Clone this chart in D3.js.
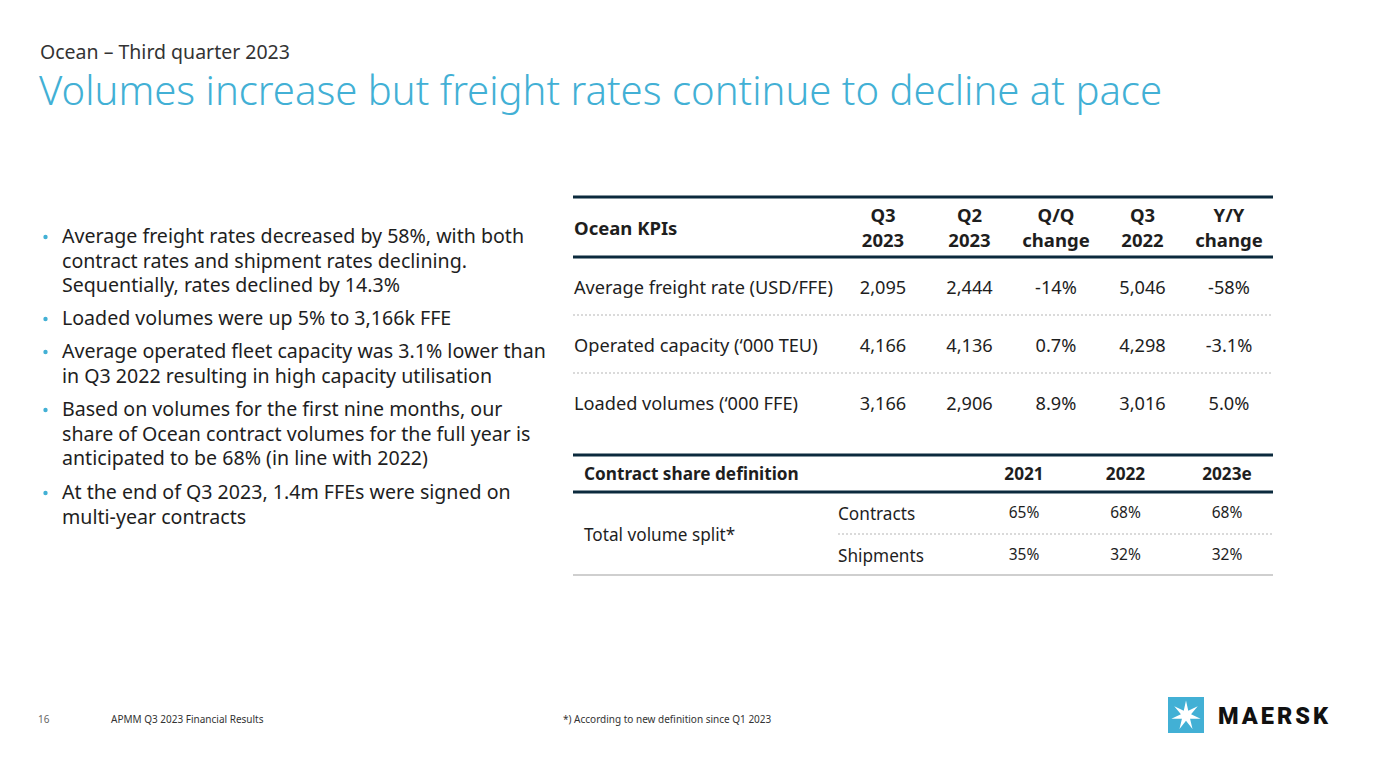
<!DOCTYPE html>
<html><head><meta charset="utf-8">
<script src="https://cdn.jsdelivr.net/npm/d3@7"></script>
<style>
body{margin:0;background:#fff;}
svg{display:block;font-family:"Noto Sans",sans-serif;}
</style></head>
<body>
<svg id="c" width="1381" height="764"></svg>
<script>
const supTitle = "Ocean – Third quarter 2023";
const title = "Volumes increase but freight rates continue to decline at pace";
const bullets = [
  ["Average freight rates decreased by 58%, with both","contract rates and shipment rates declining.","Sequentially, rates declined by 14.3%"],
  ["Loaded volumes were up 5% to 3,166k FFE"],
  ["Average operated fleet capacity was 3.1% lower than","in Q3 2022 resulting in high capacity utilisation"],
  ["Based on volumes for the first nine months, our","share of Ocean contract volumes for the full year is","anticipated to be 68% (in line with 2022)"],
  ["At the end of Q3 2023, 1.4m FFEs were signed on","multi-year contracts"]
];
const kpiColumns = [["Q3","2023"],["Q2","2023"],["Q/Q","change"],["Q3","2022"],["Y/Y","change"]];
const kpiRows = ["Average freight rate (USD/FFE)","Operated capacity (‘000 TEU)","Loaded volumes (‘000 FFE)"];
const kpiQ3_2023 = ["2,095","4,166","3,166"];
const kpiQ2_2023 = ["2,444","4,136","2,906"];
const kpiQoQ = ["-14%","0.7%","8.9%"];
const kpiQ3_2022 = ["5,046","4,298","3,016"];
const kpiYoY = ["-58%","-3.1%","5.0%"];
const shareYears = ["2021","2022","2023e"];
const shareRows = ["Contracts","Shipments"];
const contractsShare = ["65%","68%","68%"];
const shipmentsShare = ["35%","32%","32%"];
const footerPage = "16";
const footerLeft = "APMM Q3 2023 Financial Results";
const footerNote = "*) According to new definition since Q1 2023";

const svg = d3.select("#c");
const navy = "#0b2a3d", txt = "#1e1e1e", blue = "#42b0d5";

svg.append("text").attr("x",40).attr("y",59).attr("font-size",19.5).attr("fill","#333").text(supTitle);
svg.append("text").attr("x",39).attr("y",105).attr("font-size",40.1).attr("font-weight",300).attr("fill",blue).text(title);

// bullets
const bulletTops = [243,325,358,416,499];
const lineH = 24.5;
bullets.forEach((b,i)=>{
  svg.append("circle").attr("cx",45.5).attr("cy",bulletTops[i]-6).attr("r",2.2).attr("fill",blue);
  b.forEach((l,j)=>{
    svg.append("text").attr("x",62).attr("y",bulletTops[i]+j*lineH).attr("font-size",19.6).attr("fill",txt).text(l);
  });
});

// KPI table
const tx0=573, tx1=1273;
const colX = d3.scalePoint().domain(d3.range(kpiColumns.length)).range([883,1229]);
const rowY = d3.scalePoint().domain(d3.range(kpiRows.length)).range([294,410]);
const g1 = svg.append("g");
g1.append("line").attr("x1",tx0).attr("x2",tx1).attr("y1",197).attr("y2",197).attr("stroke",navy).attr("stroke-width",3);
g1.append("line").attr("x1",tx0).attr("x2",tx1).attr("y1",257).attr("y2",257).attr("stroke",navy).attr("stroke-width",3);
g1.append("text").attr("x",574).attr("y",235).attr("font-size",18.5).attr("font-weight",700).attr("fill",txt).text("Ocean KPIs");
kpiColumns.forEach((c,i)=>{
  c.forEach((l,j)=>g1.append("text").attr("x",colX(i)).attr("y",222+j*25).attr("text-anchor","middle").attr("font-size",18.5).attr("font-weight",700).attr("fill",txt).text(l));
});
const kpiVals=[kpiQ3_2023,kpiQ2_2023,kpiQoQ,kpiQ3_2022,kpiYoY];
kpiRows.forEach((r,i)=>{
  g1.append("text").attr("x",574).attr("y",rowY(i)).attr("font-size",18.2).attr("fill",txt).text(r);
  kpiVals.forEach((arr,k)=>g1.append("text").attr("x",colX(k)).attr("y",rowY(i)).attr("text-anchor","middle").attr("font-size",18.2).attr("fill",txt).text(arr[i]));
  if(i<kpiRows.length-1){
    const y=(rowY(i)+rowY(i+1))/2-8;
    g1.append("line").attr("x1",tx0).attr("x2",tx1).attr("y1",y).attr("y2",y).attr("stroke","#b5b5b5").attr("stroke-width",1).attr("stroke-dasharray","2,2");
  }
});

// Share table
const g2 = svg.append("g");
const sX = d3.scalePoint().domain(d3.range(shareYears.length)).range([1024,1227]);
const sY = d3.scalePoint().domain(d3.range(shareRows.length)).range([519,561]);
g2.append("line").attr("x1",tx0).attr("x2",tx1).attr("y1",455).attr("y2",455).attr("stroke",navy).attr("stroke-width",3);
g2.append("line").attr("x1",tx0).attr("x2",tx1).attr("y1",492).attr("y2",492).attr("stroke",navy).attr("stroke-width",3);
g2.append("line").attr("x1",tx0).attr("x2",tx1).attr("y1",575).attr("y2",575).attr("stroke","#cfcfcf").attr("stroke-width",2);
g2.append("text").attr("x",584).attr("y",480).attr("font-size",17.2).attr("font-weight",700).attr("fill",txt).text("Contract share definition");
shareYears.forEach((y,i)=>g2.append("text").attr("x",sX(i)).attr("y",480).attr("text-anchor","middle").attr("font-size",17.2).attr("font-weight",700).attr("fill",txt).text(y));
g2.append("text").attr("x",584).attr("y",541).attr("font-size",17.2).attr("fill",txt).text("Total volume split*");
const sVals=[contractsShare,shipmentsShare];
shareRows.forEach((r,i)=>{
  g2.append("text").attr("x",838).attr("y",sY(i)+1).attr("font-size",17.2).attr("fill",txt).text(r);
  sVals[i].forEach((v,k)=>g2.append("text").attr("x",sX(k)).attr("y",sY(i)-1).attr("text-anchor","middle").attr("font-size",15.5).attr("fill",txt).text(v));
});
g2.append("line").attr("x1",838).attr("x2",tx1).attr("y1",534).attr("y2",534).attr("stroke","#b5b5b5").attr("stroke-width",1).attr("stroke-dasharray","2,2");

// footer
svg.append("text").attr("x",38).attr("y",723).attr("font-size",10).attr("fill","#666").text(footerPage);
svg.append("text").attr("x",111).attr("y",723).attr("font-size",10).attr("fill","#333").text(footerLeft);
svg.append("text").attr("x",563).attr("y",723).attr("font-size",10).attr("fill","#333").text(footerNote);

// logo
const lg = svg.append("g").attr("transform","translate(1168,697)");
lg.append("rect").attr("width",36).attr("height",36).attr("fill",blue);
const pts=[];const n=7,R=15,r=5.2;
for(let i=0;i<2*n;i++){const a=-Math.PI/2+i*Math.PI/n;const rr=i%2?r:R;pts.push([18+rr*Math.cos(a),18.5+rr*Math.sin(a)]);}
lg.append("polygon").attr("points",pts.map(p=>p.join(",")).join(" ")).attr("fill","#fff");
svg.append("text").attr("x",1218).attr("y",724).attr("font-size",23.5).attr("font-weight",900).attr("font-family","Roboto, sans-serif").attr("fill","#111").attr("letter-spacing",3).text("MAERSK");
</script>
</body></html>
